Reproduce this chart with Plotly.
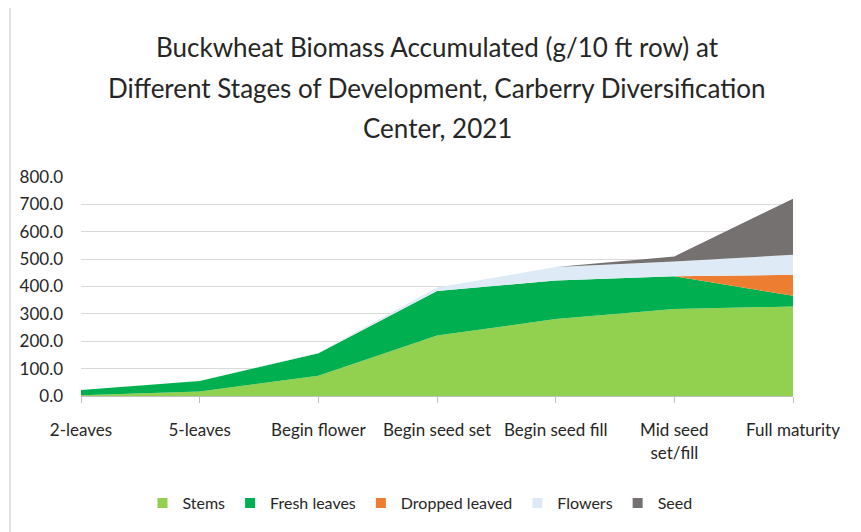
import plotly.graph_objects as go

categories = ["2-leaves", "5-leaves", "Begin flower", "Begin seed set",
              "Begin seed fill", "Mid seed<br>set/fill", "Full maturity"]
stems = [3, 16, 74, 221, 281, 318, 327]
fresh_leaves = [19, 39, 82, 163, 141, 119, 39]
dropped_leaved = [0, 0, 0, 0, 0, 0, 77]
flowers = [0, 0, 2, 12, 49, 54, 73]
seed = [0, 0, 0, 0, 0, 19, 205]
y_ticks = [0, 100, 200, 300, 400, 500, 600, 700, 800]

series = [
    ("Stems", stems, "#92D050"),
    ("Fresh leaves", fresh_leaves, "#00B050"),
    ("Dropped leaved", dropped_leaved, "#ED7D31"),
    ("Flowers", flowers, "#DEEBF7"),
    ("Seed", seed, "#767171"),
]

FONT = "Lato"
OFF = 8  # page body margin
L, T = 81 - OFF, 177 - OFF
PW, PH = 712, 219
fig = go.Figure()
for name, vals, col in series:
    fig.add_trace(go.Scatter(
        x=categories, y=vals, name=name, stackgroup="one", mode="none",
        fillcolor=col, line=dict(width=0), hoverinfo="x+y+name",
        legendgroup=name, showlegend=False))
# legend entries with small square swatches (no visible data)
for name, vals, col in series:
    fig.add_trace(go.Scatter(
        x=[None], y=[None], name=name, mode="markers",
        marker=dict(symbol="square", size=10, color=col),
        legendgroup=name, showlegend=True))


def px_x(px):
    return (px - OFF - L) / PW


def px_y(py):
    return (T + PH - (py - OFF)) / PH


title_lines = ["Buckwheat Biomass Accumulated (g/10 ft row) at",
               "Different Stages of Development, Carberry Diversification",
               "Center, 2021"]
title_y = [47, 88, 128]
for txt, py in zip(title_lines, title_y):
    fig.add_annotation(text=txt, xref="paper", yref="paper",
                       x=px_x(437), y=px_y(py),
                       xanchor="center", yanchor="middle", showarrow=False,
                       font=dict(family=FONT, size=26, color="#262626"))

fig.add_shape(type="rect", xref="paper", yref="paper",
              x0=px_x(10), x1=px_x(859),
              y0=px_y(545), y1=px_y(5),
              line=dict(color="#D9D9D9", width=1.5), fillcolor="rgba(0,0,0,0)",
              layer="below")

fig.update_layout(
    width=853, height=524,
    margin=dict(l=L, r=853 - L - PW, t=T, b=524 - T - PH),
    paper_bgcolor="white", plot_bgcolor="white",
    font=dict(family=FONT, size=17, color="#262626"),
    showlegend=True,
    legend=dict(orientation="h", x=px_x(420), xanchor="center",
                y=px_y(503), yanchor="middle", traceorder="normal",
                font=dict(family=FONT, size=16, color="#262626"),
                itemwidth=30),
    xaxis=dict(type="category", range=[0, 6], showgrid=False,
               showline=True, linecolor="#BFBFBF", linewidth=1,
               ticks="outside", ticklen=6, tickcolor="#BFBFBF",
               ticklabelstandoff=13, tickfont=dict(size=17)),
    yaxis=dict(range=[0, 800], tickvals=y_ticks, tickformat=".1f",
               showgrid=True, gridcolor="#D9D9D9", gridwidth=1,
               zeroline=False, showline=False, ticklabelstandoff=17,
               tickfont=dict(size=17)),
)

fig.write_html("out.html")
